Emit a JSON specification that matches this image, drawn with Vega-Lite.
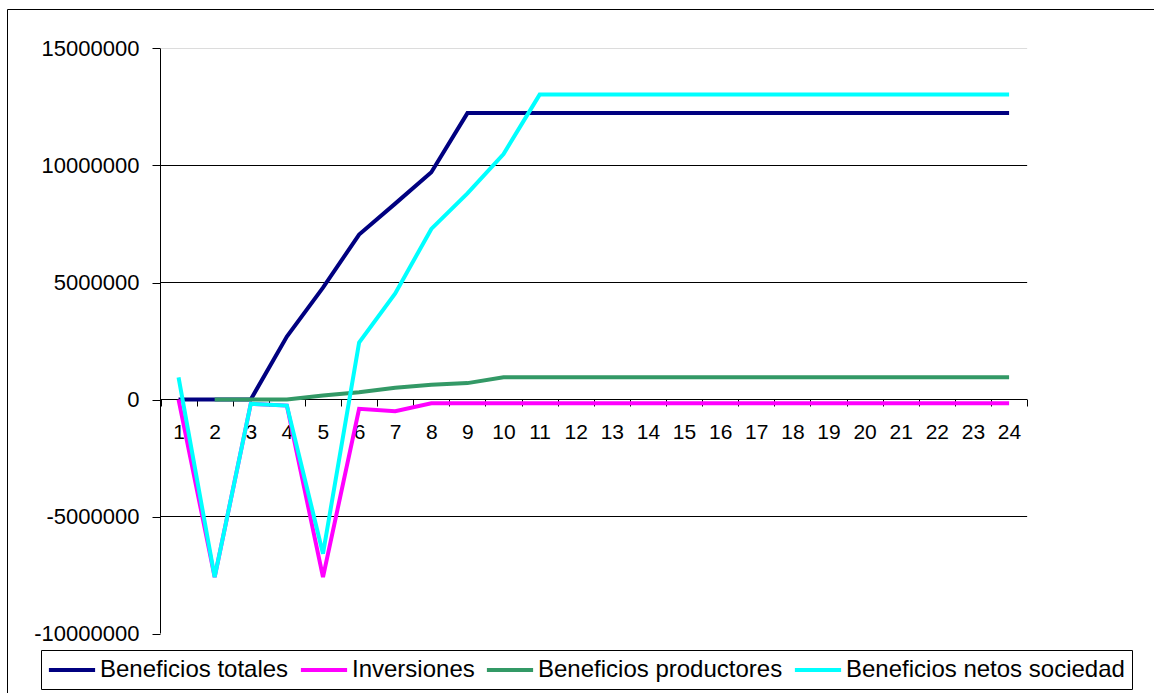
{
  "$schema": "https://vega.github.io/schema/vega-lite/v6.json",
  "width": 1157,
  "height": 694,
  "autosize": {"type": "none"},
  "padding": {"left": 7, "top": 9, "right": -10, "bottom": -10},
  "background": "#ffffff",
  "config": {
    "font": "Liberation Sans",
    "view": {"stroke": "#000000", "strokeWidth": 1}
  },
  "datasets": {
    "beneficios": [
      {"periodo": 1, "serie": "Beneficios totales", "valor": 0},
      {"periodo": 2, "serie": "Beneficios totales", "valor": 0},
      {"periodo": 3, "serie": "Beneficios totales", "valor": 0},
      {"periodo": 4, "serie": "Beneficios totales", "valor": 2690000},
      {"periodo": 5, "serie": "Beneficios totales", "valor": 4780000},
      {"periodo": 6, "serie": "Beneficios totales", "valor": 7050000},
      {"periodo": 7, "serie": "Beneficios totales", "valor": 8370000},
      {"periodo": 8, "serie": "Beneficios totales", "valor": 9710000},
      {"periodo": 9, "serie": "Beneficios totales", "valor": 12240000},
      {"periodo": 10, "serie": "Beneficios totales", "valor": 12240000},
      {"periodo": 11, "serie": "Beneficios totales", "valor": 12240000},
      {"periodo": 12, "serie": "Beneficios totales", "valor": 12240000},
      {"periodo": 13, "serie": "Beneficios totales", "valor": 12240000},
      {"periodo": 14, "serie": "Beneficios totales", "valor": 12240000},
      {"periodo": 15, "serie": "Beneficios totales", "valor": 12240000},
      {"periodo": 16, "serie": "Beneficios totales", "valor": 12240000},
      {"periodo": 17, "serie": "Beneficios totales", "valor": 12240000},
      {"periodo": 18, "serie": "Beneficios totales", "valor": 12240000},
      {"periodo": 19, "serie": "Beneficios totales", "valor": 12240000},
      {"periodo": 20, "serie": "Beneficios totales", "valor": 12240000},
      {"periodo": 21, "serie": "Beneficios totales", "valor": 12240000},
      {"periodo": 22, "serie": "Beneficios totales", "valor": 12240000},
      {"periodo": 23, "serie": "Beneficios totales", "valor": 12240000},
      {"periodo": 24, "serie": "Beneficios totales", "valor": 12240000},
      {"periodo": 1, "serie": "Inversiones", "valor": 0},
      {"periodo": 2, "serie": "Inversiones", "valor": -7590000},
      {"periodo": 3, "serie": "Inversiones", "valor": -180000},
      {"periodo": 4, "serie": "Inversiones", "valor": -260000},
      {"periodo": 5, "serie": "Inversiones", "valor": -7590000},
      {"periodo": 6, "serie": "Inversiones", "valor": -400000},
      {"periodo": 7, "serie": "Inversiones", "valor": -500000},
      {"periodo": 8, "serie": "Inversiones", "valor": -160000},
      {"periodo": 9, "serie": "Inversiones", "valor": -160000},
      {"periodo": 10, "serie": "Inversiones", "valor": -160000},
      {"periodo": 11, "serie": "Inversiones", "valor": -160000},
      {"periodo": 12, "serie": "Inversiones", "valor": -160000},
      {"periodo": 13, "serie": "Inversiones", "valor": -160000},
      {"periodo": 14, "serie": "Inversiones", "valor": -160000},
      {"periodo": 15, "serie": "Inversiones", "valor": -160000},
      {"periodo": 16, "serie": "Inversiones", "valor": -160000},
      {"periodo": 17, "serie": "Inversiones", "valor": -160000},
      {"periodo": 18, "serie": "Inversiones", "valor": -160000},
      {"periodo": 19, "serie": "Inversiones", "valor": -160000},
      {"periodo": 20, "serie": "Inversiones", "valor": -160000},
      {"periodo": 21, "serie": "Inversiones", "valor": -160000},
      {"periodo": 22, "serie": "Inversiones", "valor": -160000},
      {"periodo": 23, "serie": "Inversiones", "valor": -160000},
      {"periodo": 24, "serie": "Inversiones", "valor": -160000},
      {"periodo": 2, "serie": "Beneficios productores", "valor": 0},
      {"periodo": 3, "serie": "Beneficios productores", "valor": 0},
      {"periodo": 4, "serie": "Beneficios productores", "valor": 0},
      {"periodo": 5, "serie": "Beneficios productores", "valor": 170000},
      {"periodo": 6, "serie": "Beneficios productores", "valor": 310000},
      {"periodo": 7, "serie": "Beneficios productores", "valor": 500000},
      {"periodo": 8, "serie": "Beneficios productores", "valor": 630000},
      {"periodo": 9, "serie": "Beneficios productores", "valor": 700000},
      {"periodo": 10, "serie": "Beneficios productores", "valor": 950000},
      {"periodo": 11, "serie": "Beneficios productores", "valor": 950000},
      {"periodo": 12, "serie": "Beneficios productores", "valor": 950000},
      {"periodo": 13, "serie": "Beneficios productores", "valor": 950000},
      {"periodo": 14, "serie": "Beneficios productores", "valor": 950000},
      {"periodo": 15, "serie": "Beneficios productores", "valor": 950000},
      {"periodo": 16, "serie": "Beneficios productores", "valor": 950000},
      {"periodo": 17, "serie": "Beneficios productores", "valor": 950000},
      {"periodo": 18, "serie": "Beneficios productores", "valor": 950000},
      {"periodo": 19, "serie": "Beneficios productores", "valor": 950000},
      {"periodo": 20, "serie": "Beneficios productores", "valor": 950000},
      {"periodo": 21, "serie": "Beneficios productores", "valor": 950000},
      {"periodo": 22, "serie": "Beneficios productores", "valor": 950000},
      {"periodo": 23, "serie": "Beneficios productores", "valor": 950000},
      {"periodo": 24, "serie": "Beneficios productores", "valor": 950000},
      {"periodo": 1, "serie": "Beneficios netos sociedad", "valor": 950000},
      {"periodo": 2, "serie": "Beneficios netos sociedad", "valor": -7590000},
      {"periodo": 3, "serie": "Beneficios netos sociedad", "valor": -180000},
      {"periodo": 4, "serie": "Beneficios netos sociedad", "valor": -260000},
      {"periodo": 5, "serie": "Beneficios netos sociedad", "valor": -6590000},
      {"periodo": 6, "serie": "Beneficios netos sociedad", "valor": 2430000},
      {"periodo": 7, "serie": "Beneficios netos sociedad", "valor": 4530000},
      {"periodo": 8, "serie": "Beneficios netos sociedad", "valor": 7290000},
      {"periodo": 9, "serie": "Beneficios netos sociedad", "valor": 8810000},
      {"periodo": 10, "serie": "Beneficios netos sociedad", "valor": 10490000},
      {"periodo": 11, "serie": "Beneficios netos sociedad", "valor": 13030000},
      {"periodo": 12, "serie": "Beneficios netos sociedad", "valor": 13030000},
      {"periodo": 13, "serie": "Beneficios netos sociedad", "valor": 13030000},
      {"periodo": 14, "serie": "Beneficios netos sociedad", "valor": 13030000},
      {"periodo": 15, "serie": "Beneficios netos sociedad", "valor": 13030000},
      {"periodo": 16, "serie": "Beneficios netos sociedad", "valor": 13030000},
      {"periodo": 17, "serie": "Beneficios netos sociedad", "valor": 13030000},
      {"periodo": 18, "serie": "Beneficios netos sociedad", "valor": 13030000},
      {"periodo": 19, "serie": "Beneficios netos sociedad", "valor": 13030000},
      {"periodo": 20, "serie": "Beneficios netos sociedad", "valor": 13030000},
      {"periodo": 21, "serie": "Beneficios netos sociedad", "valor": 13030000},
      {"periodo": 22, "serie": "Beneficios netos sociedad", "valor": 13030000},
      {"periodo": 23, "serie": "Beneficios netos sociedad", "valor": 13030000},
      {"periodo": 24, "serie": "Beneficios netos sociedad", "valor": 13030000}
    ],
    "rejilla": [
      {"nivel": 15000000},
      {"nivel": 10000000},
      {"nivel": 5000000},
      {"nivel": -5000000}
    ]
  },
  "layer": [
    {
      "data": {"name": "rejilla"},
      "mark": {"type": "rule", "strokeWidth": 1},
      "encoding": {
        "x": {
          "datum": 0.5,
          "type": "quantitative",
          "title": null,
          "scale": {"domain": [-3.7509, 28.2900], "nice": false, "zero": false},
          "axis": {
            "orient": "bottom",
            "offset": -304,
            "title": null,
            "values": [0.5, 1.5, 2.5, 3.5, 4.5, 5.5, 6.5, 7.5, 8.5, 9.5, 10.5, 11.5, 12.5, 13.5, 14.5, 15.5, 16.5, 17.5, 18.5, 19.5, 20.5, 21.5, 22.5, 23.5, 24.5],
            "labelExpr": "datum.value < 24 ? '' + (datum.value + 0.5) : ''",
            "domain": false,
            "grid": false,
            "ticks": true,
            "tickSize": 7,
            "tickWidth": 1,
            "tickColor": "#000000",
            "labelFont": "Liberation Sans",
            "labelFontSize": 21,
            "labelColor": "#000000",
            "labelPadding": 15,
            "labelOffset": 18,
            "labelFlush": false,
            "labelOverlap": false,
            "labelBound": false
          }
        },
        "x2": {"datum": 24.5},
        "y": {
          "field": "nivel",
          "type": "quantitative",
          "title": null,
          "scale": {"domain": [-12970085, 16688034], "nice": false, "zero": false},
          "axis": {
            "orient": "left",
            "offset": -153,
            "title": null,
            "values": [-10000000, -5000000, 0, 5000000, 10000000, 15000000],
            "labelExpr": "'' + datum.value",
            "domain": false,
            "grid": false,
            "ticks": true,
            "tickSize": 8,
            "tickWidth": 1,
            "tickColor": "#000000",
            "labelFont": "Liberation Sans",
            "labelFontSize": 22,
            "labelColor": "#000000",
            "labelPadding": 13,
            "labelFlush": false,
            "labelOverlap": false,
            "labelBound": false
          }
        },
        "color": {"condition": {"test": "datum.nivel == 15000000", "value": "#dcdcdc"}, "value": "#000000"}
      }
    },
    {
      "data": {"values": [{}]},
      "mark": {"type": "rule", "strokeWidth": 1, "color": "#000000"},
      "encoding": {
        "x": {"datum": 0.5, "type": "quantitative", "title": null},
        "y": {"datum": -10000000, "type": "quantitative", "title": null},
        "y2": {"datum": 15000000}
      }
    },
    {
      "data": {"values": [{}]},
      "mark": {"type": "rule", "strokeWidth": 1, "color": "#000000"},
      "encoding": {
        "x": {"datum": 0.5, "type": "quantitative", "title": null},
        "x2": {"datum": 24.5},
        "y": {"datum": 0, "type": "quantitative", "title": null}
      }
    },
    {
      "data": {"name": "beneficios"},
      "mark": {"type": "line", "strokeWidth": 4},
      "encoding": {
        "x": {"field": "periodo", "type": "quantitative", "title": null},
        "y": {"field": "valor", "type": "quantitative", "title": null},
        "color": {
          "field": "serie",
          "type": "nominal",
          "scale": {
            "domain": ["Beneficios totales", "Inversiones", "Beneficios productores", "Beneficios netos sociedad"],
            "range": ["#000080", "#ff00ff", "#339966", "#00ffff"]
          },
          "legend": {
            "orient": "none",
            "legendX": 34,
            "legendY": 641,
            "direction": "horizontal",
            "columns": 4,
            "title": null,
            "symbolType": "M-2.1,0H2.1",
            "symbolSize": 484,
            "symbolStrokeWidth": 4,
            "symbolOffset": 11,
            "labelFont": "Liberation Sans",
            "labelFontSize": 24,
            "labelColor": "#000000",
            "labelOffset": 15,
            "labelLimit": 600,
            "columnPadding": 3,
            "padding": 7,
            "strokeColor": "#000000",
            "fillColor": "#ffffff"
          }
        }
      }
    }
  ]
}
